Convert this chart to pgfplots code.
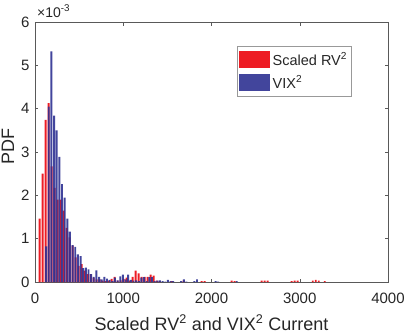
\documentclass[border=0pt]{standalone}
\usepackage{pgfplots}
\pgfplotsset{compat=1.18}
\usepackage{fontspec}
\setmainfont{Liberation Sans}
\definecolor{rvred}{RGB}{237,28,36}
\definecolor{vixblue}{RGB}{46,49,146}
\definecolor{axgray}{RGB}{38,38,38}

\begin{document}
\begin{tikzpicture}
\begin{axis}[
    at={(0,0)}, anchor=south west,
    scale only axis,
    width=353pt, height=260pt,
    xmin=0, xmax=4000, ymin=0, ymax=0.006,
    xtick={0,1000,2000,3000,4000},
    xticklabels={0,1000,2000,3000,4000},
    ytick={0,0.001,0.002,0.003,0.004,0.005,0.006},
    yticklabels={0,1,2,3,4,5,6},
    scaled x ticks=false, scaled y ticks=false,
    tick align=inside, major tick length=3.5pt,
    xtick pos=both, ytick pos=both,
    axis line style={black!65, line width=0.5pt},
    every tick/.style={black!65, line width=0.5pt},
    ticklabel style={font=\fontsize{15}{17}\selectfont, text=axgray},
    xticklabel style={yshift=-7pt},
    yticklabel style={xshift=-2pt},
    xlabel={Scaled RV\textsuperscript{2} and VIX\textsuperscript{2} Current},
    ylabel={PDF},
    every axis x label/.style={at={(rel axis cs:0.5,0)}, anchor=base, yshift=-48pt,
        font=\fontsize{18}{20}\selectfont, text=axgray},
    every axis y label/.style={at={(rel axis cs:0,0.523)}, rotate=90, anchor=center, yshift=27pt,
        font=\fontsize{18}{20}\selectfont, text=axgray},
    bar width=22, bar shift=0pt,
    legend image code/.code={\fill[#1] (0pt,-8.5pt) rectangle (31pt,8.5pt);},
    legend style={at={(rel axis cs:0.572,0.908)}, anchor=north west,
        draw=black!40, line width=0.5pt, inner xsep=2pt, inner ysep=5pt,
        font=\fontsize{14.5}{16}\selectfont, text=axgray, row sep=6pt,
        nodes={inner xsep=2.5pt, inner ysep=0pt}},
    legend cell align=left,
    clip=false,
]
\addplot[ybar, fill=rvred, draw=none] coordinates {
(53,1.46e-3) (87,2.50e-3) (121,3.74e-3) (155,4.13e-3) (189,2.67e-3)
(223,2.17e-3) (257,1.90e-3) (291,1.90e-3) (325,1.65e-3) (359,1.25e-3)
(393,1.03e-3) (427,0.84e-3) (461,0.57e-3) (495,0.37e-3) (529,0.41e-3)
(563,0.26e-3) (597,0.18e-3) (631,0.18e-3) (665,0.10e-3) (699,0.06e-3)
(733,0.06e-3) (767,0.03e-3) (801,0.02e-3) (835,0.03e-3) (869,0.07e-3)
(903,0.12e-3) (937,0.03e-3) (971,0.04e-3) (1005,0.07e-3) (1039,0.10e-3)
(1073,0.03e-3) (1107,0.12e-3) (1141,0.26e-3) (1175,0.20e-3) (1209,0.12e-3)
(1243,0.12e-3) (1277,0.12e-3) (1311,0.17e-3) (1345,0.15e-3) (1379,0.03e-3)
(1413,0.02e-3) (1549,0.02e-3) (1685,0.03e-3) (1889,0.02e-3) (1923,0.02e-3)
(2229,0.03e-3) (2263,0.02e-3) (2569,0.03e-3) (2603,0.03e-3) (2637,0.03e-3)
(2909,0.02e-3) (2943,0.03e-3) (2977,0.03e-3) (3147,0.03e-3) (3181,0.05e-3)
(3215,0.03e-3) (3283,0.02e-3)
};
\addlegendentry{Scaled RV\textsuperscript{2}}
\addplot[ybar, fill=vixblue, draw=none, fill opacity=0.9] coordinates {
(126,0.82e-3) (156,4.05e-3) (186,5.32e-3) (216,3.84e-3) (246,3.50e-3)
(276,2.89e-3) (306,2.26e-3) (336,1.95e-3) (366,1.46e-3) (396,1.16e-3)
(426,0.85e-3) (456,0.81e-3) (486,0.64e-3) (516,0.60e-3) (546,0.32e-3)
(576,0.33e-3) (606,0.29e-3) (636,0.18e-3) (666,0.12e-3) (696,0.27e-3)
(726,0.12e-3) (756,0.06e-3) (786,0.12e-3) (816,0.08e-3) (846,0.05e-3)
(876,0.02e-3) (906,0.10e-3) (936,0.04e-3) (966,0.13e-3) (996,0.17e-3)
(1026,0.06e-3) (1056,0.17e-3) (1086,0.05e-3) (1116,0.03e-3) (1146,0.04e-3)
(1176,0.02e-3) (1206,0.10e-3) (1236,0.11e-3) (1266,0.02e-3) (1296,0.11e-3)
(1326,0.11e-3) (1356,0.02e-3) (1386,0.03e-3) (1416,0.04e-3) (1446,0.02e-3)
(1476,0.01e-3) (1506,0.05e-3) (1536,0.02e-3) (1566,0.02e-3) (1656,0.02e-3)
(1686,0.06e-3) (1716,0.01e-3) (1806,0.02e-3) (1836,0.06e-3) (2046,0.02e-3)
(2076,0.01e-3) (2286,0.02e-3)
};
\addlegendentry{VIX\textsuperscript{2}}
\node[anchor=base west, font=\fontsize{14}{16}\selectfont, text=axgray, inner sep=0pt]
    at (rel axis cs:0,1) [xshift=2pt, yshift=5pt] {×10\textsuperscript{-3}};
\end{axis}
\pgfresetboundingbox
\useasboundingbox (-35pt,-51pt) rectangle (372pt,282pt);
\end{tikzpicture}
\end{document}
